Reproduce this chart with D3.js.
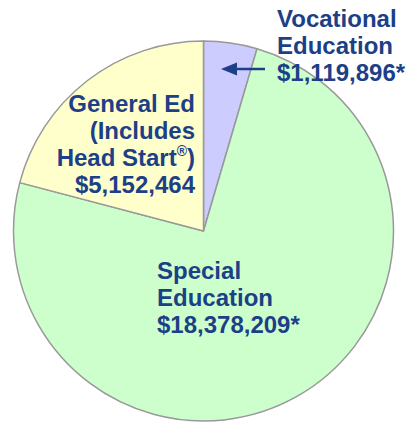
<!DOCTYPE html>
<html>
<head>
<meta charset="utf-8">
<script src="https://cdn.jsdelivr.net/npm/d3@7"></script>
<style>
  html, body { margin: 0; padding: 0; background: #fff; }
  svg { display: block; }
</style>
</head>
<body>
<svg id="chart" width="408" height="422"></svg>
<script>
const categories = ["Vocational Education", "Special Education", "General Ed (Includes Head Start®)"];
const values = [1119896, 18378209, 5152464];
const colors = ["#CCCCFF", "#CCFFCC", "#FFFFCC"];
const valueLabels = ["$1,119,896*", "$18,378,209*", "$5,152,464"];

const W = 408, H = 422;
const cx = 203.5, cy = 231, R = 190;
const textColor = "#1c3f87";
const font = "'Liberation Sans', Arial, sans-serif";

const svg = d3.select("#chart");
const g = svg.append("g").attr("transform", `translate(${cx},${cy})`);

const pie = d3.pie().sort(null).value(d => d.v);
const arc = d3.arc().innerRadius(0).outerRadius(R);
const data = values.map((v, i) => ({ v, i }));

g.selectAll("path.slice")
  .data(pie(data))
  .join("path")
  .attr("class", "slice")
  .attr("d", arc)
  .attr("fill", d => colors[d.data.i])
  .attr("stroke", "#999999")
  .attr("stroke-width", 1.5)
  .attr("stroke-linejoin", "round");

function label(x, y, lines, anchor) {
  const t = svg.append("text")
    .attr("x", x).attr("y", y)
    .attr("text-anchor", anchor)
    .attr("font-family", font)
    .attr("font-weight", "bold")
    .attr("font-size", 24)
    .attr("fill", textColor);
  lines.forEach((ln, k) => {
    const ts = t.append("tspan").attr("x", x).attr("dy", k === 0 ? 0 : 27);
    if (ln.includes("®")) {
      const parts = ln.split("®");
      ts.append("tspan").text(parts[0]);
      ts.append("tspan").attr("font-size", 14).attr("dy", -10).text("®");
      ts.append("tspan").attr("dy", 10).text(parts[1]);
    } else {
      ts.text(ln);
    }
  });
  return t;
}

// Vocational
label(277, 27, ["Vocational", "Education", valueLabels[0]], "start");
// General Ed
label(195, 112, ["General Ed", "(Includes", "Head Start®)", valueLabels[2]], "end");
// Special
label(157, 279, ["Special", "Education", valueLabels[1]], "start");

// Arrow pointing to vocational slice
const ay = 69, tipX = 221, headLen = 16, headHalf = 6.5, tailX = 265;
svg.append("line")
  .attr("x1", tailX).attr("y1", ay)
  .attr("x2", tipX + headLen - 2).attr("y2", ay)
  .attr("stroke", textColor)
  .attr("stroke-width", 2.5);
svg.append("path")
  .attr("d", `M${tipX},${ay} L${tipX + headLen},${ay - headHalf} L${tipX + headLen},${ay + headHalf} Z`)
  .attr("fill", textColor);
</script>
</body>
</html>
